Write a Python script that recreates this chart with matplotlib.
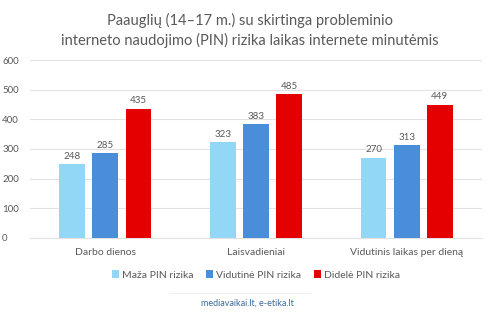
import numpy as np
import matplotlib.pyplot as plt
from matplotlib.lines import Line2D

categories = ["Darbo dienos", "Laisvadieniai", "Vidutinis laikas per dieną"]
series_names = ["Maža PIN rizika", "Vidutinė PIN rizika", "Didelė PIN rizika"]
low_risk = [248, 323, 270]
mid_risk = [285, 383, 313]
high_risk = [435, 485, 449]
yticks = [0, 100, 200, 300, 400, 500, 600]

colors = ["#92D8F6", "#4A8EDA", "#E50000"]
text_gray = "#595959"

plt.rcParams['font.family'] = ['Lato', 'DejaVu Sans']

fig = plt.figure(figsize=(5, 3.3), dpi=100)
ax = fig.add_axes([0.06, 0.279, 0.904, 0.539])

x = np.arange(len(categories))
width = 0.172
step = 0.22
for i, (vals, name, c) in enumerate(zip([low_risk, mid_risk, high_risk], series_names, colors)):
    bars = ax.bar(x + (i - 1) * step, vals, width, color=c, label=name, zorder=3)
    for b, v in zip(bars, vals):
        ax.text(b.get_x() + b.get_width() / 2, v + 12, str(v), ha='center', va='bottom',
                fontsize=7, color=text_gray)

ax.set_xlim(-0.5, 2.5)
ax.set_ylim(0, 600)
ax.set_yticks(yticks)
ax.set_yticklabels([str(t) for t in yticks], fontsize=7, color=text_gray)
ax.yaxis.grid(True, color="#E2E2E2", linewidth=0.8, zorder=0)
ax.set_xticks(x)
ax.set_xticklabels(categories, fontsize=7.5, color=text_gray)
ax.tick_params(axis='both', length=0, pad=7)
ax.tick_params(axis='y', pad=20)
for t in ax.get_yticklabels():
    t.set_horizontalalignment('left')
for s in ['top', 'right', 'left']:
    ax.spines[s].set_visible(False)
ax.spines['bottom'].set_color("#E2E2E2")

fig.text(0.5, 0.908, "Paauglių (14–17 m.) su skirtinga probleminio\ninterneto naudojimo (PIN) rizika laikas internete minutėmis",
         ha='center', va='center', fontsize=10.5, color=text_gray, linespacing=1.45)

ax.legend(loc='upper center', bbox_to_anchor=(0.5, -0.13), ncol=3, frameon=False,
          fontsize=7.5, handlelength=0.7, handleheight=0.7, handletextpad=0.3,
          columnspacing=1.2, labelcolor=text_gray)

fig.add_artist(Line2D([0.34, 0.62], [0.113, 0.113], color="#F0F0F0", linewidth=0.8))
fig.text(0.495, 0.082, "mediavaikai.lt, e-etika.lt", ha='center', va='center',
         fontsize=6.5, color="#3B6C9C")

fig.savefig("out.png", dpi=100)
